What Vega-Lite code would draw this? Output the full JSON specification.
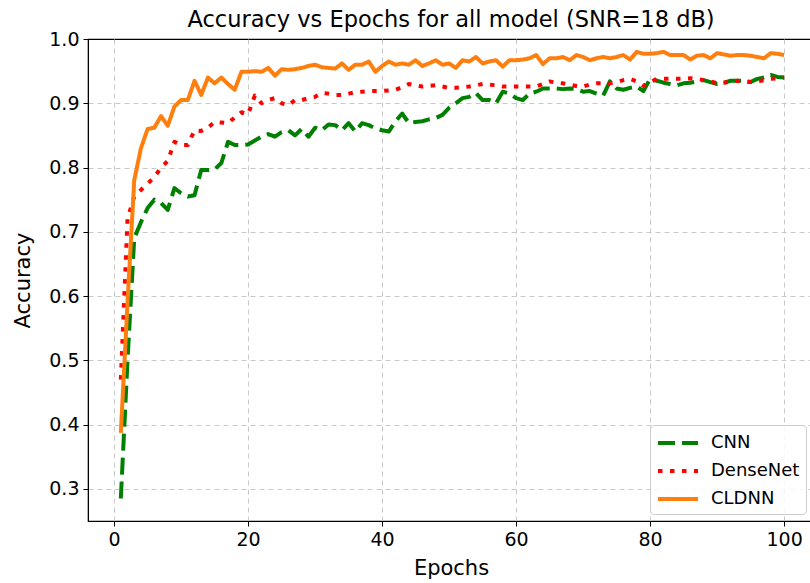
{
  "$schema": "https://vega.github.io/schema/vega-lite/v6.json",
  "width": 726,
  "height": 482,
  "autosize": {"type": "none"},
  "padding": {"left": 88, "top": 39, "right": 0, "bottom": 62},
  "background": "white",
  "config": {
    "font": "DejaVu Sans",
    "view": {"stroke": "black", "strokeWidth": 1.2},
    "axis": {
      "domainColor": "black", "tickColor": "black", "labelColor": "black", "titleColor": "black",
      "labelFont": "DejaVu Sans", "titleFont": "DejaVu Sans", "labelFontSize": 19, "titleFontSize": 21,
      "titleFontWeight": "normal", "tickSize": 5, "labelPadding": 4,
      "gridColor": "#c8c8c8", "gridDash": [5, 4], "gridWidth": 1
    }
  },
  "title": {"text": "Accuracy vs Epochs for all model (SNR=18 dB)", "fontSize": 22.5, "font": "DejaVu Sans", "fontWeight": "normal", "color": "black", "offset": -1, "dx": 0},
  "data": {"values": [
    {"epoch":1,"CNN":0.285,"DenseNet":0.47,"CLDNN":0.387},
    {"epoch":2,"CNN":0.50,"DenseNet":0.72,"CLDNN":0.59},
    {"epoch":3,"CNN":0.69,"DenseNet":0.755,"CLDNN":0.78},
    {"epoch":4,"CNN":0.715,"DenseNet":0.765,"CLDNN":0.83},
    {"epoch":5,"CNN":0.737,"DenseNet":0.775,"CLDNN":0.86},
    {"epoch":6,"CNN":0.75,"DenseNet":0.785,"CLDNN":0.862},
    {"epoch":7,"CNN":0.745,"DenseNet":0.80,"CLDNN":0.88},
    {"epoch":8,"CNN":0.734,"DenseNet":0.81,"CLDNN":0.865},
    {"epoch":9,"CNN":0.768,"DenseNet":0.84,"CLDNN":0.895},
    {"epoch":10,"CNN":0.76,"DenseNet":0.835,"CLDNN":0.905},
    {"epoch":11,"CNN":0.755,"DenseNet":0.835,"CLDNN":0.905},
    {"epoch":12,"CNN":0.757,"DenseNet":0.858,"CLDNN":0.935},
    {"epoch":13,"CNN":0.796,"DenseNet":0.857,"CLDNN":0.913},
    {"epoch":14,"CNN":0.796,"DenseNet":0.862,"CLDNN":0.94},
    {"epoch":15,"CNN":0.797,"DenseNet":0.871,"CLDNN":0.931},
    {"epoch":16,"CNN":0.807,"DenseNet":0.870,"CLDNN":0.94},
    {"epoch":17,"CNN":0.84,"DenseNet":0.869,"CLDNN":0.93},
    {"epoch":18,"CNN":0.835,"DenseNet":0.878,"CLDNN":0.921},
    {"epoch":19,"CNN":0.835,"DenseNet":0.886,"CLDNN":0.949},
    {"epoch":20,"CNN":0.836,"DenseNet":0.883,"CLDNN":0.949},
    {"epoch":21,"CNN":0.842,"DenseNet":0.912,"CLDNN":0.950},
    {"epoch":22,"CNN":0.848,"DenseNet":0.90,"CLDNN":0.949},
    {"epoch":23,"CNN":0.852,"DenseNet":0.905,"CLDNN":0.955},
    {"epoch":24,"CNN":0.848,"DenseNet":0.908,"CLDNN":0.943},
    {"epoch":25,"CNN":0.855,"DenseNet":0.900,"CLDNN":0.953},
    {"epoch":26,"CNN":0.858,"DenseNet":0.897,"CLDNN":0.952},
    {"epoch":27,"CNN":0.850,"DenseNet":0.905,"CLDNN":0.953},
    {"epoch":28,"CNN":0.860,"DenseNet":0.905,"CLDNN":0.955},
    {"epoch":29,"CNN":0.848,"DenseNet":0.908,"CLDNN":0.958},
    {"epoch":30,"CNN":0.862,"DenseNet":0.910,"CLDNN":0.960},
    {"epoch":31,"CNN":0.858,"DenseNet":0.916,"CLDNN":0.956},
    {"epoch":32,"CNN":0.867,"DenseNet":0.915,"CLDNN":0.955},
    {"epoch":33,"CNN":0.866,"DenseNet":0.913,"CLDNN":0.954},
    {"epoch":34,"CNN":0.858,"DenseNet":0.913,"CLDNN":0.962},
    {"epoch":35,"CNN":0.869,"DenseNet":0.915,"CLDNN":0.952},
    {"epoch":36,"CNN":0.856,"DenseNet":0.917,"CLDNN":0.960},
    {"epoch":37,"CNN":0.869,"DenseNet":0.918,"CLDNN":0.960},
    {"epoch":38,"CNN":0.866,"DenseNet":0.919,"CLDNN":0.965},
    {"epoch":39,"CNN":0.861,"DenseNet":0.919,"CLDNN":0.949},
    {"epoch":40,"CNN":0.858,"DenseNet":0.919,"CLDNN":0.958},
    {"epoch":41,"CNN":0.856,"DenseNet":0.920,"CLDNN":0.965},
    {"epoch":42,"CNN":0.872,"DenseNet":0.921,"CLDNN":0.960},
    {"epoch":43,"CNN":0.884,"DenseNet":0.925,"CLDNN":0.962},
    {"epoch":44,"CNN":0.869,"DenseNet":0.930,"CLDNN":0.960},
    {"epoch":45,"CNN":0.871,"DenseNet":0.928,"CLDNN":0.967},
    {"epoch":46,"CNN":0.872,"DenseNet":0.926,"CLDNN":0.958},
    {"epoch":47,"CNN":0.875,"DenseNet":0.927,"CLDNN":0.962},
    {"epoch":48,"CNN":0.877,"DenseNet":0.928,"CLDNN":0.967},
    {"epoch":49,"CNN":0.882,"DenseNet":0.926,"CLDNN":0.960},
    {"epoch":50,"CNN":0.893,"DenseNet":0.924,"CLDNN":0.962},
    {"epoch":51,"CNN":0.900,"DenseNet":0.924,"CLDNN":0.955},
    {"epoch":52,"CNN":0.908,"DenseNet":0.925,"CLDNN":0.967},
    {"epoch":53,"CNN":0.910,"DenseNet":0.926,"CLDNN":0.965},
    {"epoch":54,"CNN":0.916,"DenseNet":0.928,"CLDNN":0.972},
    {"epoch":55,"CNN":0.905,"DenseNet":0.930,"CLDNN":0.962},
    {"epoch":56,"CNN":0.905,"DenseNet":0.929,"CLDNN":0.965},
    {"epoch":57,"CNN":0.900,"DenseNet":0.928,"CLDNN":0.967},
    {"epoch":58,"CNN":0.918,"DenseNet":0.926,"CLDNN":0.957},
    {"epoch":59,"CNN":0.915,"DenseNet":0.926,"CLDNN":0.967},
    {"epoch":60,"CNN":0.908,"DenseNet":0.926,"CLDNN":0.967},
    {"epoch":61,"CNN":0.905,"DenseNet":0.926,"CLDNN":0.968},
    {"epoch":62,"CNN":0.915,"DenseNet":0.926,"CLDNN":0.970},
    {"epoch":63,"CNN":0.918,"DenseNet":0.926,"CLDNN":0.975},
    {"epoch":64,"CNN":0.923,"DenseNet":0.930,"CLDNN":0.961},
    {"epoch":65,"CNN":0.923,"DenseNet":0.934,"CLDNN":0.970},
    {"epoch":66,"CNN":0.923,"DenseNet":0.932,"CLDNN":0.970},
    {"epoch":67,"CNN":0.922,"DenseNet":0.931,"CLDNN":0.972},
    {"epoch":68,"CNN":0.923,"DenseNet":0.929,"CLDNN":0.967},
    {"epoch":69,"CNN":0.922,"DenseNet":0.927,"CLDNN":0.975},
    {"epoch":70,"CNN":0.918,"DenseNet":0.926,"CLDNN":0.972},
    {"epoch":71,"CNN":0.919,"DenseNet":0.929,"CLDNN":0.967},
    {"epoch":72,"CNN":0.915,"DenseNet":0.931,"CLDNN":0.970},
    {"epoch":73,"CNN":0.912,"DenseNet":0.931,"CLDNN":0.972},
    {"epoch":74,"CNN":0.934,"DenseNet":0.931,"CLDNN":0.970},
    {"epoch":75,"CNN":0.923,"DenseNet":0.933,"CLDNN":0.972},
    {"epoch":76,"CNN":0.921,"DenseNet":0.936,"CLDNN":0.975},
    {"epoch":77,"CNN":0.924,"DenseNet":0.938,"CLDNN":0.968},
    {"epoch":78,"CNN":0.926,"DenseNet":0.934,"CLDNN":0.980},
    {"epoch":79,"CNN":0.919,"DenseNet":0.927,"CLDNN":0.977},
    {"epoch":80,"CNN":0.938,"DenseNet":0.933,"CLDNN":0.977},
    {"epoch":81,"CNN":0.935,"DenseNet":0.938,"CLDNN":0.978},
    {"epoch":82,"CNN":0.932,"DenseNet":0.938,"CLDNN":0.980},
    {"epoch":83,"CNN":0.930,"DenseNet":0.938,"CLDNN":0.975},
    {"epoch":84,"CNN":0.928,"DenseNet":0.938,"CLDNN":0.975},
    {"epoch":85,"CNN":0.931,"DenseNet":0.938,"CLDNN":0.975},
    {"epoch":86,"CNN":0.932,"DenseNet":0.939,"CLDNN":0.968},
    {"epoch":87,"CNN":0.934,"DenseNet":0.938,"CLDNN":0.974},
    {"epoch":88,"CNN":0.936,"DenseNet":0.936,"CLDNN":0.975},
    {"epoch":89,"CNN":0.933,"DenseNet":0.934,"CLDNN":0.970},
    {"epoch":90,"CNN":0.930,"DenseNet":0.931,"CLDNN":0.978},
    {"epoch":91,"CNN":0.932,"DenseNet":0.932,"CLDNN":0.976},
    {"epoch":92,"CNN":0.935,"DenseNet":0.934,"CLDNN":0.974},
    {"epoch":93,"CNN":0.935,"DenseNet":0.935,"CLDNN":0.975},
    {"epoch":94,"CNN":0.935,"DenseNet":0.934,"CLDNN":0.975},
    {"epoch":95,"CNN":0.933,"DenseNet":0.933,"CLDNN":0.974},
    {"epoch":96,"CNN":0.938,"DenseNet":0.934,"CLDNN":0.972},
    {"epoch":97,"CNN":0.940,"DenseNet":0.936,"CLDNN":0.970},
    {"epoch":98,"CNN":0.944,"DenseNet":0.938,"CLDNN":0.978},
    {"epoch":99,"CNN":0.941,"DenseNet":0.939,"CLDNN":0.977},
    {"epoch":100,"CNN":0.940,"DenseNet":0.940,"CLDNN":0.975}
  ]},
  "transform": [{"fold": ["CNN", "DenseNet", "CLDNN"], "as": ["model", "acc"]}],
  "mark": {"type": "line", "strokeWidth": 4, "strokeCap": "butt", "strokeJoin": "round"},
  "encoding": {
    "x": {"field": "epoch", "type": "quantitative",
      "scale": {"domain": [-3.9, 104.46], "nice": false, "zero": false},
      "axis": {"values": [0, 20, 40, 60, 80, 100], "title": "Epochs", "titlePadding": 8, "grid": true}},
    "y": {"field": "acc", "type": "quantitative",
      "scale": {"domain": [0.25, 1.0], "nice": false, "zero": false},
      "axis": {"values": [0.3, 0.4, 0.5, 0.6, 0.7, 0.8, 0.9, 1.0], "format": ".1f", "title": "Accuracy", "titlePadding": 15, "grid": true,
        "gridOpacity": {"condition": {"test": "datum.value > 0.99", "value": 0}, "value": 1}}},
    "color": {"field": "model", "type": "nominal",
      "scale": {"domain": ["CNN", "DenseNet", "CLDNN"], "range": ["#008000", "#ff0000", "#ff7f0e"]},
      "legend": {"orient": "none", "legendX": 562, "legendY": 386, "title": null, "symbolType": "M-2,0H2", "symbolSize": 400, "symbolStrokeWidth": 4, "symbolOffset": 10, "labelFontSize": 18, "labelFont": "DejaVu Sans", "labelColor": "black", "strokeColor": "#cccccc", "fillColor": "rgba(255,255,255,0.85)", "cornerRadius": 4, "padding": 6, "rowPadding": 7, "labelOffset": 21}},
    "strokeDash": {"field": "model", "type": "nominal",
      "scale": {"domain": ["CNN", "DenseNet", "CLDNN"], "range": [[17, 7], [4.5, 7.5], [1, 0]]},
      "legend": {"orient": "none", "legendX": 562, "legendY": 386, "title": null, "symbolType": "M-2,0H2", "symbolSize": 400, "symbolStrokeWidth": 4, "symbolOffset": 10, "labelFontSize": 18, "labelFont": "DejaVu Sans", "labelColor": "black", "strokeColor": "#cccccc", "fillColor": "rgba(255,255,255,0.85)", "cornerRadius": 4, "padding": 6, "rowPadding": 7, "labelOffset": 21}}
  }
}
